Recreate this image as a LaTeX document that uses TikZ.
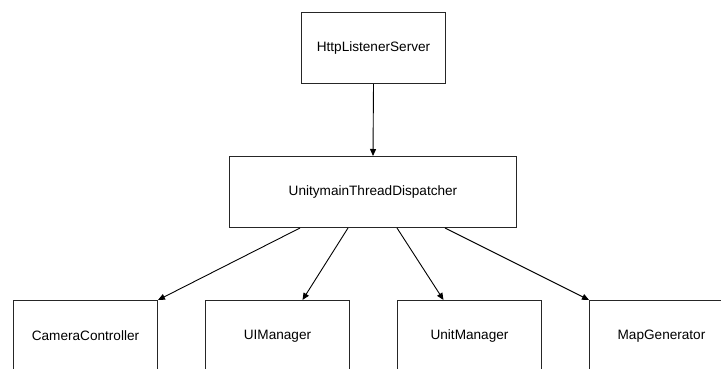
\documentclass[tikz,border=0pt]{standalone}
\usepackage{fontspec}
\setmainfont{Liberation Sans}
\usetikzlibrary{arrows.meta}
\begin{document}
\begin{tikzpicture}[x=1pt,y=-1pt,
  box/.style={draw=black!85,line width=1pt,fill=white,minimum width=144pt,minimum height=71pt,inner sep=0pt,font=\fontsize{13.6}{16}\selectfont},
  arr/.style={draw=black,line width=0.9pt,-{Triangle[length=7pt,width=6pt]}}]
\useasboundingbox (0,0) rectangle (721,369);
\clip (0,0) rectangle (721,369);
\node[box] (http) at (373.5,48) {HttpListenerServer};
\node[box,minimum width=287pt,minimum height=71pt] (disp) at (373,192) {UnitymainThreadDispatcher};
\node[box] (cam) at (85.5,336) {CameraController};
\node[box] (ui) at (277.5,336) {UIManager};
\node[box] (unit) at (469.5,336) {UnitManager};
\node[box] (map) at (661.5,336) {MapGenerator};
\draw[arr] (http.south) -- (disp.north);
\draw[arr] ([xshift=-73pt]disp.south) -- (cam.north east);
\draw[arr] ([xshift=-25pt]disp.south) -- ([xshift=25pt]ui.north);
\draw[arr] ([xshift=24pt]disp.south) -- ([xshift=-26pt]unit.north);
\draw[arr] ([xshift=72pt]disp.south) -- (map.north west);
\end{tikzpicture}
\end{document}
